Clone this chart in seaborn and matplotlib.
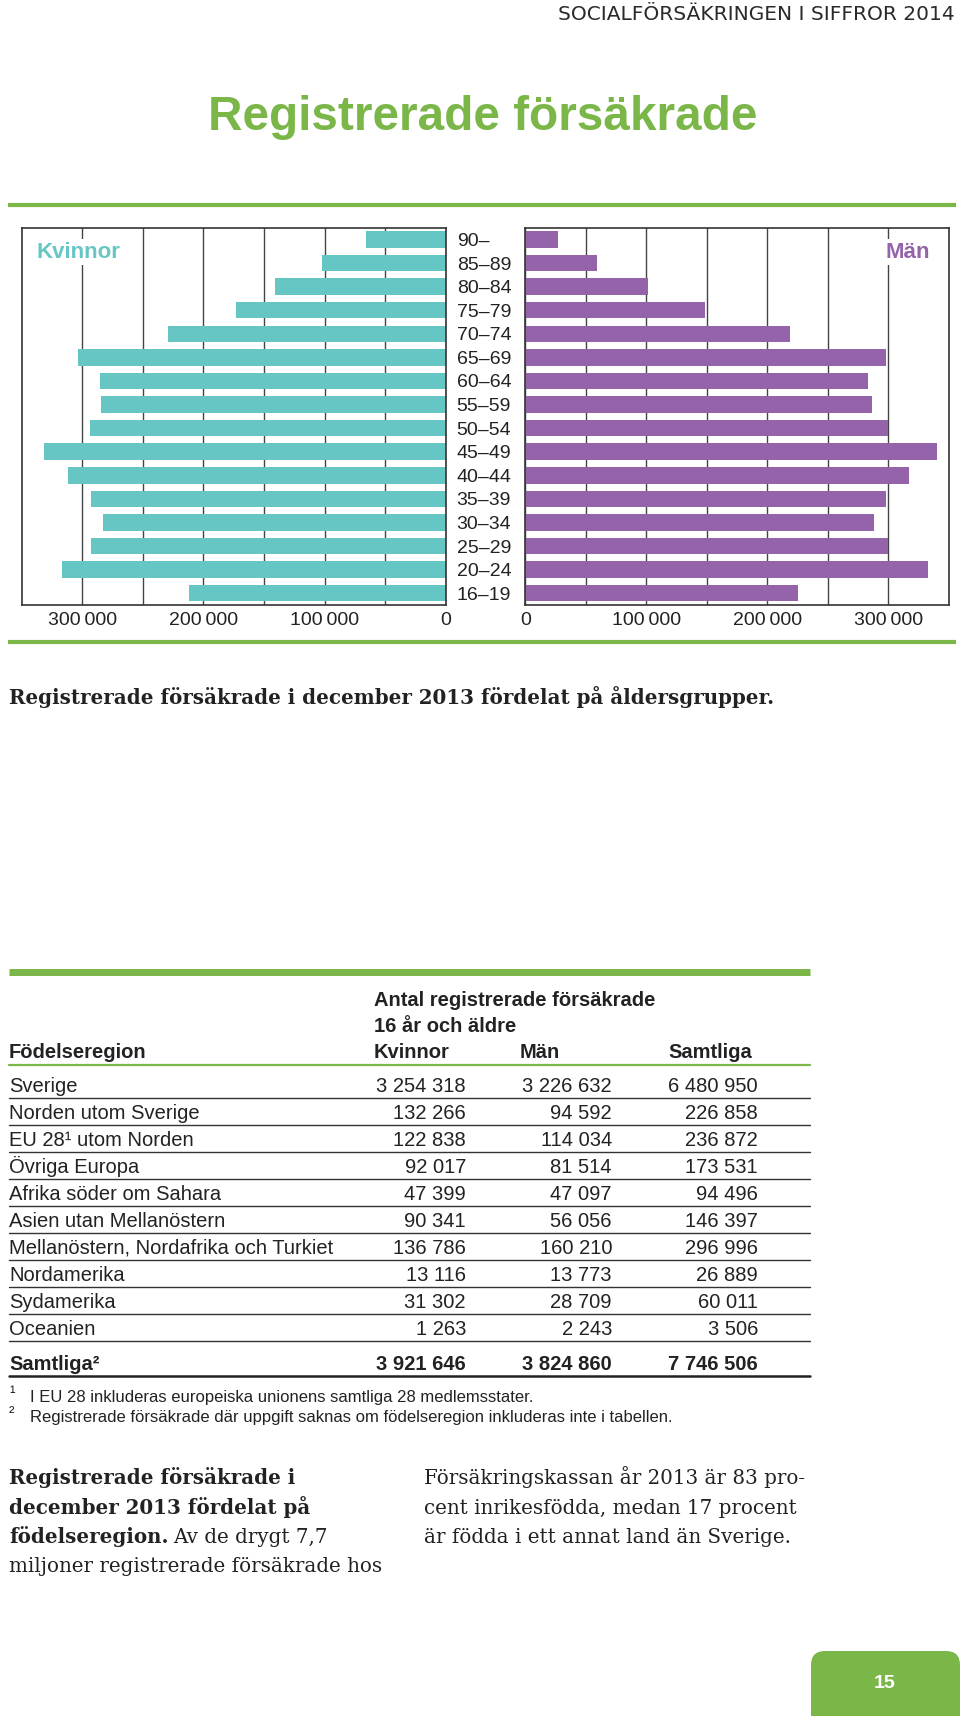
import matplotlib
matplotlib.use("Agg")
import matplotlib.pyplot as plt
import seaborn as sns
from matplotlib.patches import FancyBboxPatch

# age pyramid, registered insured persons dec 2013
ages = ["90–", "85–89", "80–84", "75–79", "70–74", "65–69", "60–64", "55–59",
        "50–54", "45–49", "40–44", "35–39", "30–34", "25–29", "20–24", "16–19"]
women = [66000, 102000, 140500, 173500, 229500, 303500, 285500, 284500,
         293500, 331500, 312000, 293000, 282500, 292500, 317000, 211500]
men = [27000, 59500, 101500, 148500, 218500, 298000, 283000, 286500,
       300000, 340000, 317000, 298000, 288000, 300000, 333000, 225000]
xticks = [0, 100000, 200000, 300000]
xticklabels = ["0", "100\u2009000", "200\u2009000", "300\u2009000"]

# table by region of birth
regions = ["Sverige", "Norden utom Sverige", "EU 28¹ utom Norden", "Övriga Europa",
           "Afrika söder om Sahara", "Asien utan Mellanöstern",
           "Mellanöstern, Nordafrika och Turkiet", "Nordamerika", "Sydamerika", "Oceanien"]
kvinnor = [3254318, 132266, 122838, 92017, 47399, 90341, 136786, 13116, 31302, 1263]
man = [3226632, 94592, 114034, 81514, 47097, 56056, 160210, 13773, 28709, 2243]
samtliga = [6480950, 226858, 236872, 173531, 94496, 146397, 296996, 26889, 60011, 3506]
totals = [3921646, 3824860, 7746506]

TEAL = "#66c6c3"
PURPLE = "#9463aa"
GREEN = "#7ab648"
DARK = "#222222"

sns.set_style("white")
plt.rcParams["font.family"] = ["Liberation Sans", "DejaVu Sans"]

fig = plt.figure(figsize=(9.6, 17.16), dpi=100)
W, H = 960, 1716


def frac(x0, y0, x1, y1):
    return [x0 / W, 1 - y1 / H, (x1 - x0) / W, (y1 - y0) / H]


axL = fig.add_axes(frac(21.7, 227.7, 445.7, 605))
axR = fig.add_axes(frac(525.3, 227.7, 949, 605))

sns.barplot(x=women, y=ages, ax=axL, color=TEAL, saturation=1, width=0.7, linewidth=0)
sns.barplot(x=men, y=ages, ax=axR, color=PURPLE, saturation=1, width=0.7, linewidth=0)

for ax in (axL, axR):
    ax.set_ylim(15.5, -0.5)
    ax.set_xticks(xticks)
    ax.set_xticklabels(xticklabels)
    ax.set_xticks([50000, 150000, 250000], minor=True)
    ax.set_axisbelow(True)
    ax.grid(axis="x", which="both", color="#444444", lw=1)
    ax.grid(axis="y", visible=False)
    ax.set_xlabel("")
    ax.set_ylabel("")
    ax.tick_params(axis="x", which="both", length=0, pad=5, labelsize=14, labelcolor=DARK)
    for s in ax.spines.values():
        s.set_color("#333333")
        s.set_linewidth(1.2)

axL.set_xlim(350000, 0)
axR.set_xlim(0, 350000)
axL.tick_params(axis="y", left=False, labelleft=False)
axR.set_yticks(range(len(ages)))
axR.set_yticklabels(ages)
axR.tick_params(axis="y", length=0, pad=49.4, labelsize=14, labelcolor=DARK)
for lab in axR.get_yticklabels():
    lab.set_ha("left")

axL.text(0.035, 0.935, "Kvinnor", transform=axL.transAxes, color=TEAL, fontsize=16,
         fontweight="bold", va="center", ha="left",
         bbox=dict(facecolor="white", edgecolor="none", pad=2))
axR.text(0.955, 0.935, "Män", transform=axR.transAxes, color=PURPLE, fontsize=16,
         fontweight="bold", va="center", ha="right",
         bbox=dict(facecolor="white", edgecolor="none", pad=2))

# page overlay in pixel coordinates
ov = fig.add_axes([0, 0, 1, 1])
ov.set_xlim(0, W)
ov.set_ylim(H, 0)
ov.axis("off")

ov.text(955, 20.5, "SOCIALFÖRSÄKRINGEN I SIFFROR 2014", ha="right", va="baseline",
        fontsize=14.5, color="#2a2a2a", family=["DejaVu Sans"])
ov.text(482.5, 117, "Registrerade försäkrade", ha="center", va="center",
        fontsize=34.4, fontweight="bold", color=GREEN)

ov.plot([8, 956], [205, 205], color=GREEN, lw=3, solid_capstyle="butt")
ov.plot([8, 956], [641.7, 641.7], color=GREEN, lw=3, solid_capstyle="butt")

serif = ["DejaVu Serif", "Liberation Serif"]
pfs = 14.3
ov.text(9, 704, "Registrerade försäkrade i december 2013 fördelat på åldersgrupper.",
        ha="left", va="baseline", fontsize=pfs, fontweight="bold", color=DARK, family=serif)

# table
tx0, tx1 = 9, 810
ov.plot([tx0, tx1], [972, 972], color=GREEN, lw=5, solid_capstyle="butt")
ov.text(374, 1006, "Antal registrerade försäkrade", fontsize=14.5, fontweight="bold", color=DARK)
ov.text(374, 1032, "16 år och äldre", fontsize=14.5, fontweight="bold", color=DARK)
for x, lab in [(9, "Födelseregion"), (374, "Kvinnor"), (520, "Män"), (668, "Samtliga")]:
    ov.text(x, 1058, lab, fontsize=14.5, fontweight="bold", color=DARK)
ov.plot([tx0, tx1], [1065, 1065], color=GREEN, lw=1.6)

cols = [466, 612, 758]


def fmt(v):
    return f"{v:,}".replace(",", " ")


y0, pitch = 1085, 27.0
for i, reg in enumerate(regions):
    yc = y0 + i * pitch
    ov.text(9, yc + 7, reg, fontsize=14.5, color=DARK, va="baseline")
    for x, v in zip(cols, [kvinnor[i], man[i], samtliga[i]]):
        ov.text(x, yc + 7, fmt(v), fontsize=14.5, color=DARK, ha="right", va="baseline")
    ov.plot([tx0, tx1], [yc + 13.3, yc + 13.3], color="#333333", lw=1)

yc = 1363
ov.text(9, yc + 7, "Samtliga²", fontsize=14.5, fontweight="bold", color=DARK, va="baseline")
for x, v in zip(cols, totals):
    ov.text(x, yc + 7, fmt(v), fontsize=14.5, fontweight="bold", color=DARK, ha="right",
            va="baseline")
ov.plot([tx0, tx1], [1376, 1376], color="#222222", lw=1.8)

ov.text(9, 1398, "¹", fontsize=12, color=DARK, va="baseline")
ov.text(30, 1402, "I EU 28 inkluderas europeiska unionens samtliga 28 medlemsstater.",
        fontsize=12, color=DARK, va="baseline")
ov.text(9, 1418, "²", fontsize=12, color=DARK, va="baseline")
ov.text(30, 1422, "Registrerade försäkrade där uppgift saknas om födelseregion inkluderas inte i tabellen.",
        fontsize=12, color=DARK, va="baseline")

# body paragraph
ov.text(9, 1484, "Registrerade försäkrade i", fontsize=pfs, fontweight="bold", color=DARK, family=serif)
ov.text(9, 1514, "december 2013 fördelat på", fontsize=pfs, fontweight="bold", color=DARK, family=serif)
t = ov.text(9, 1543, "födelseregion.", fontsize=pfs, fontweight="bold", color=DARK, family=serif)
fig.canvas.draw()
bb = t.get_window_extent(renderer=fig.canvas.get_renderer())
xe = ov.transData.inverted().transform((bb.x1, bb.y0))[0]
ov.text(xe + 5, 1543, "Av de drygt 7,7", fontsize=pfs, color=DARK, family=serif)
ov.text(9, 1572, "miljoner registrerade försäkrade hos", fontsize=pfs, color=DARK, family=serif)
for yb, line in zip([1484, 1514, 1543], ["Försäkringskassan år 2013 är 83 pro-",
                                          "cent inrikesfödda, medan 17 procent",
                                          "är födda i ett annat land än Sverige."]):
    ov.text(424, yb, line, fontsize=pfs, color=DARK, family=serif)

# page number tab
box = FancyBboxPatch((811, 1651), 149, 100, boxstyle="round,pad=0,rounding_size=14",
                     facecolor=GREEN, edgecolor="none")
ov.add_patch(box)
ov.text(885, 1683, "15", ha="center", va="center", fontsize=14, fontweight="bold", color="white")

fig.savefig("out.png", dpi=100)
